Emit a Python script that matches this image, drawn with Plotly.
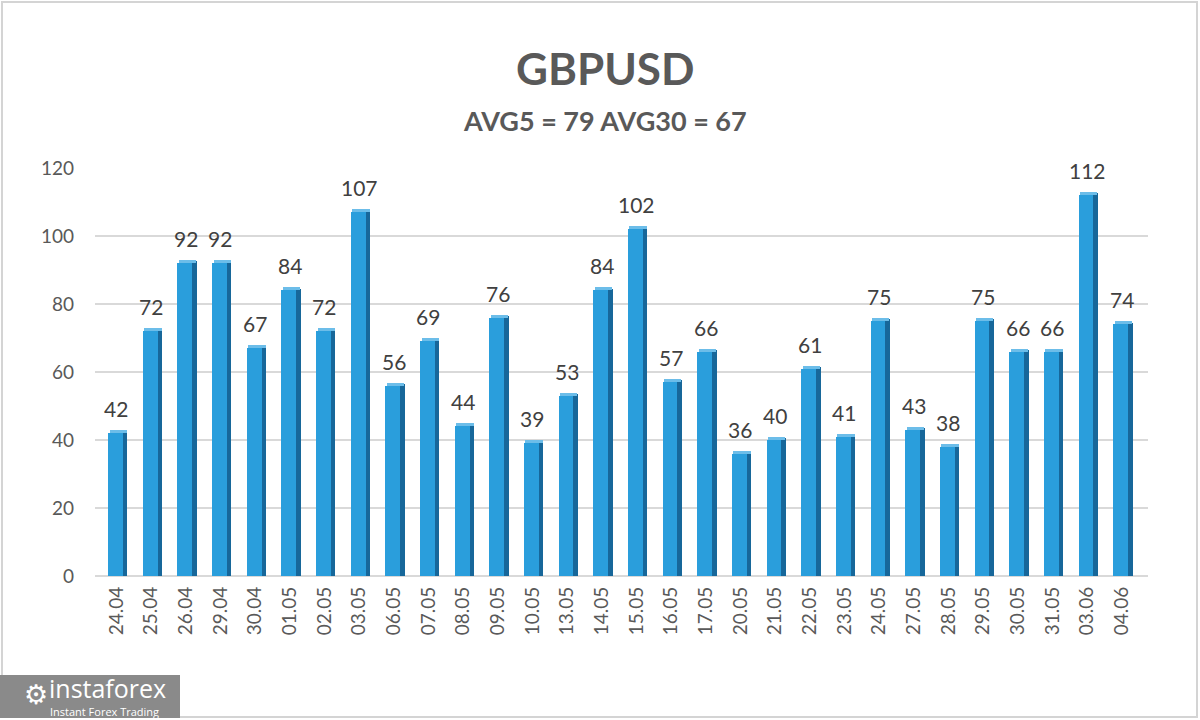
import plotly.graph_objects as go

dates = ["24.04", "25.04", "26.04", "29.04", "30.04", "01.05", "02.05", "03.05", "06.05", "07.05",
         "08.05", "09.05", "10.05", "13.05", "14.05", "15.05", "16.05", "17.05", "20.05", "21.05",
         "22.05", "23.05", "24.05", "27.05", "28.05", "29.05", "30.05", "31.05", "03.06", "04.06"]
values = [42, 72, 92, 92, 67, 84, 72, 107, 56, 69,
          44, 76, 39, 53, 84, 102, 57, 66, 36, 40,
          61, 41, 75, 43, 38, 75, 66, 66, 112, 74]
title = "GBPUSD"
subtitle = "AVG5 = 79 AVG30 = 67"

FONT = "Lato, 'Open Sans', sans-serif"
GREY = "#595959"

# plot area in pixels
L, R, T, B = 95, 1148, 168, 576

def px_x(x):
    return (x - L) / (R - L)

def px_y(y):
    return (B - y) / (B - T)

xs = list(range(len(dates)))
top_h = 0.9  # thickness of the fake 3d top face, in data units

fig = go.Figure()
# side face (dark)
fig.add_trace(go.Bar(x=xs, y=[v + top_h * 0.6 for v in values], width=0.13, offset=0.185,
                     marker=dict(color="#17679a", line=dict(width=0)), hoverinfo="skip"))
# front face
fig.add_trace(go.Bar(x=xs, y=values, width=0.43, offset=-0.245,
                     marker=dict(color="#2a9edc", line=dict(width=0))))
# top face
fig.add_trace(go.Bar(x=xs, y=[top_h] * len(values), base=values, width=0.5, offset=-0.2,
                     marker=dict(color="#6cbde9", line=dict(width=0)), hoverinfo="skip"))

for i, v in enumerate(values):
    fig.add_annotation(x=i, y=v, text=str(v), showarrow=False, yanchor="bottom", yshift=10,
                       font=dict(family=FONT, size=21, color="#404040"))

fig.add_annotation(xref="paper", yref="paper", x=px_x(605), y=px_y(68), text="<b>" + title + "</b>",
                   showarrow=False, yanchor="middle", font=dict(family=FONT, size=44, color=GREY))
fig.add_annotation(xref="paper", yref="paper", x=px_x(605), y=px_y(121), text="<b>" + subtitle + "</b>",
                   showarrow=False, yanchor="middle", font=dict(family=FONT, size=27, color=GREY))

# logo block
fig.add_shape(type="rect", xref="paper", yref="paper", x0=px_x(0), x1=px_x(180), y0=px_y(718), y1=px_y(675),
              fillcolor="#8a8a8a", line=dict(width=0), layer="above")
fig.add_annotation(xref="paper", yref="paper", x=px_x(22), y=px_y(694), text="⚙", showarrow=False,
                   yanchor="middle", font=dict(family="DejaVu Sans", size=27, color="white"))
fig.add_annotation(xref="paper", yref="paper", x=px_x(47), y=px_y(688), text="instaforex", showarrow=False,
                   xanchor="left", yanchor="middle", font=dict(family="'Open Sans', sans-serif", size=25, color="white"))
fig.add_annotation(xref="paper", yref="paper", x=px_x(48), y=px_y(711), text="Instant Forex Trading", showarrow=False,
                   xanchor="left", yanchor="middle", font=dict(family="'Open Sans', sans-serif", size=11, color="white"))

# outer frame
fig.add_shape(type="rect", xref="paper", yref="paper", x0=px_x(2), x1=px_x(1197), y0=px_y(717), y1=px_y(2),
              fillcolor="rgba(0,0,0,0)", line=dict(width=2, color="#d4d4d4"), layer="below")

fig.update_layout(
    width=1200, height=720,
    margin=dict(l=L, r=1200 - R, t=T, b=720 - B),
    paper_bgcolor="white", plot_bgcolor="white",
    barmode="overlay", bargap=0, showlegend=False,
    font=dict(family=FONT, color=GREY),
)
fig.update_xaxes(tickmode="array", tickvals=xs, ticktext=dates, tickangle=-90,
                 range=[-0.62, 29.76], showgrid=False, zeroline=False, showline=False,
                 tickfont=dict(size=19, color=GREY), ticks="", ticklabelstandoff=6)
fig.update_yaxes(range=[0, 120], dtick=20, showgrid=True, gridcolor="#d9d9d9", gridwidth=2,
                 zeroline=True, zerolinecolor="#d9d9d9", zerolinewidth=2, showline=False,
                 tickfont=dict(size=19, color=GREY), ticklabelstandoff=20)

# the page body has an 8px default margin; drop it so the figure fills the window
fig.write_html("out.html", config={"displayModeBar": False},
               post_script="document.body.style.margin='0';")
